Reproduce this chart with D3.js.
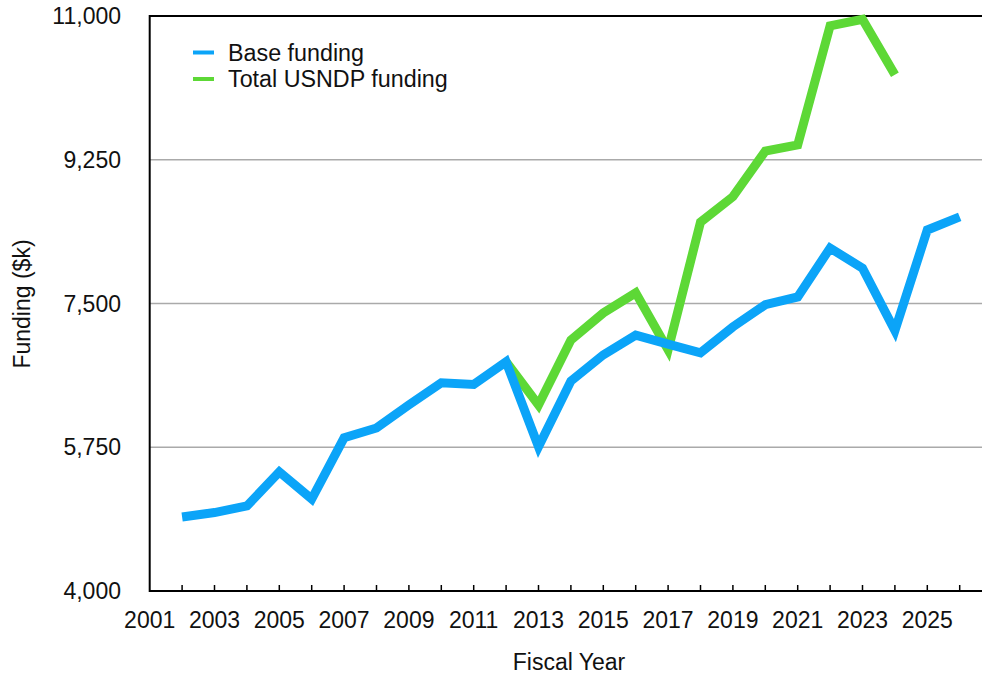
<!DOCTYPE html>
<meta charset="utf-8">
<style>
body { margin: 0; background: #fff; }
svg { display: block; font-family: "Liberation Sans", Arial, sans-serif; }
.grid line { stroke: #aaa; stroke-width: 1.5; }
.frame { stroke: #000; stroke-width: 2; fill: none; }
.tick-label { font-size: 23px; fill: #111; }
.title { font-size: 23px; fill: #111; }
.legend text { font-size: 23.3px; fill: #111; }
</style>
<svg width="982" height="674"></svg>
<script src="https://cdn.jsdelivr.net/npm/d3@7"></script>
<script>

var years = d3.range(2002, 2027);
var baseFunding = [4900, 4955, 5035, 5450, 5120, 5865, 5985, 6265, 6535, 6515, 6790,
                   5755, 6555, 6875, 7115, 7005, 6900, 7215, 7485, 7580, 8175, 7930, 7170, 8395, 8555];

var totalYears = d3.range(2012, 2025);
var totalFunding = [6790, 6265, 7055, 7385, 7630, 6935, 8490, 8800, 9355, 9430, 10880, 10960, 10285];

var yTicks = [4000, 5750, 7500, 9250, 11000];
var xLabels = d3.range(2001, 2026, 2);

var svg = d3.select("svg"),
    plotLeft = 149.7, plotBottom = 591, plotTop = 16;

var x = d3.scaleLinear().domain([2001, 2027]).range([plotLeft, plotLeft + 26 * 32.4]);
var y = d3.scaleLinear().domain([4000, 11000]).range([plotBottom, plotTop]);

// gridlines
svg.append("g")
    .attr("class", "grid")
  .selectAll("line")
  .data(yTicks.slice(1, -1))
  .enter().append("line")
    .attr("x1", plotLeft).attr("x2", 982)
    .attr("y1", function(d) { return y(d); })
    .attr("y2", function(d) { return y(d); });

// frame: top, left, bottom
svg.append("path")
    .attr("class", "frame")
    .attr("d", "M982," + y(11000) + "H" + plotLeft + "V" + plotBottom + "H982");

// x ticks, pointing up into the plot
svg.append("g")
  .selectAll("line")
  .data(d3.range(2002, 2027))
  .enter().append("line")
    .attr("x1", function(d) { return x(d); })
    .attr("x2", function(d) { return x(d); })
    .attr("y1", plotBottom).attr("y2", plotBottom - 6)
    .attr("stroke", "#000").attr("stroke-width", 1.5);

svg.append("g")
  .selectAll("text")
  .data(xLabels)
  .enter().append("text")
    .attr("class", "tick-label")
    .attr("x", function(d) { return x(d); })
    .attr("y", 628)
    .attr("text-anchor", "middle")
    .text(function(d) { return d; });

svg.append("g")
  .selectAll("text")
  .data(yTicks)
  .enter().append("text")
    .attr("class", "tick-label")
    .attr("x", 121)
    .attr("y", function(d) { return y(d) + 8; })
    .attr("text-anchor", "end")
    .text(d3.format(","));

svg.append("text")
    .attr("class", "title")
    .attr("x", 569).attr("y", 670)
    .attr("text-anchor", "middle")
    .text("Fiscal Year");

svg.append("text")
    .attr("class", "title")
    .attr("transform", "translate(30,304) rotate(-90)")
    .attr("text-anchor", "middle")
    .text("Funding ($k)");

var line = d3.line()
    .x(function(d) { return x(d[0]); })
    .y(function(d) { return y(d[1]); });

svg.append("path")
    .datum(d3.zip(totalYears, totalFunding))
    .attr("d", line)
    .attr("fill", "none")
    .attr("stroke", "#5dd836")
    .attr("stroke-width", 9)
    .attr("stroke-linejoin", "miter");

svg.append("path")
    .datum(d3.zip(years, baseFunding))
    .attr("d", line)
    .attr("fill", "none")
    .attr("stroke", "#0ba4f8")
    .attr("stroke-width", 9)
    .attr("stroke-linejoin", "miter");

// legend
var legend = svg.append("g").attr("class", "legend");
var items = [["Base funding", "#0ba4f8"], ["Total USNDP funding", "#5dd836"]];
legend.selectAll("line")
  .data(items)
  .enter().append("line")
    .attr("x1", 193).attr("x2", 214)
    .attr("y1", function(d, i) { return 52.5 + i * 26.5; })
    .attr("y2", function(d, i) { return 52.5 + i * 26.5; })
    .attr("stroke", function(d) { return d[1]; })
    .attr("stroke-width", 4);
legend.selectAll("text")
  .data(items)
  .enter().append("text")
    .attr("x", 228)
    .attr("y", function(d, i) { return 60.5 + i * 26.5; })
    .text(function(d) { return d[0]; });

</script>
